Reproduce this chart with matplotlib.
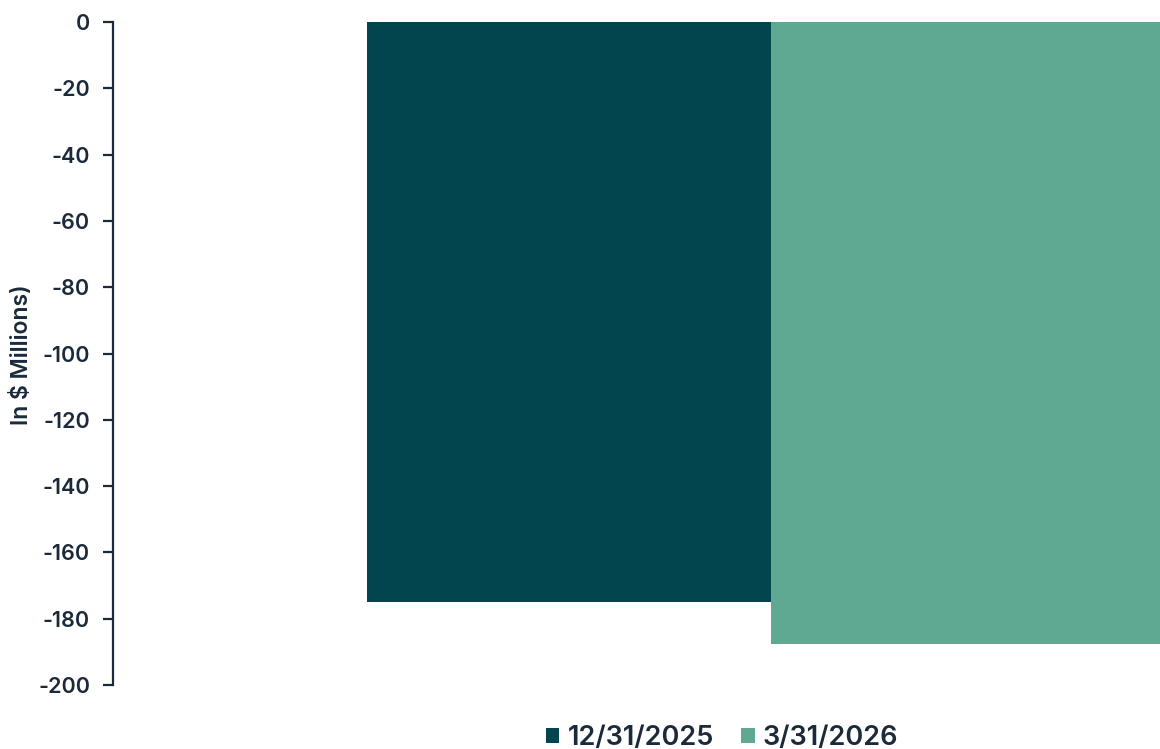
#!/usr/bin/env python3
"""Single-category grouped bar chart, negative values in $ millions."""

import matplotlib
matplotlib.use("Agg")
import matplotlib.pyplot as plt
from matplotlib.patches import Patch

# data
series_labels = ["12/31/2025", "3/31/2026"]
series_values = [-175.0, -187.5]
series_colors = ["#03454f", "#5fa892"]
y_ticks = [0, -20, -40, -60, -80, -100, -120, -140, -160, -180, -200]

TEXT = "#1b2a3a"
FAMILY = ["Inter", "DejaVu Sans"]

plt.rcParams["font.family"] = FAMILY

W, H = 1160, 749
fig = plt.figure(figsize=(W / 100, H / 100), dpi=100)
ax = fig.add_axes([113 / W, 1 - 685 / H, 1 - 113 / W, (685 - 22) / H])

bar_w = 0.4
offsets = [-bar_w / 2, bar_w / 2]
for off, val, col, lab in zip(offsets, series_values, series_colors, series_labels):
    ax.bar(off, val, width=bar_w, color=col, label=lab, linewidth=0)

# keep the x-range so the group sits to the right, as in the original
ax.set_xlim(-0.4 - (367 - 113) / 1010, 0.4 - 15 / 1010)
ax.set_ylim(-200, 0)
ax.set_yticks(y_ticks)
ax.set_yticklabels([str(t) for t in y_ticks], fontsize=15.5, color=TEXT, fontweight="semibold")
ax.set_xticks([])

for side in ["top", "right", "bottom"]:
    ax.spines[side].set_visible(False)
ax.spines["left"].set_color(TEXT)
ax.spines["left"].set_linewidth(1.6)
ax.tick_params(axis="y", direction="out", length=7, width=1.6, color=TEXT, pad=9.5)

fig.text(22 / W, 1 - 355 / H, "In $ Millions)", rotation=90, ha="center", va="center",
         fontsize=16.5, color=TEXT, fontweight="semibold")

handles = [Patch(facecolor=c, edgecolor="none") for c in series_colors]
fig.legend(handles, series_labels, loc="center", bbox_to_anchor=(722 / W, 1 - 738 / H),
           ncol=2, frameon=False, handlelength=0.5, handleheight=0.5,
           handletextpad=0.3, columnspacing=1.0, labelcolor=TEXT,
           prop={"family": FAMILY, "size": 19.5, "weight": "semibold"})

fig.savefig("out.png", dpi=100)
plt.close(fig)
